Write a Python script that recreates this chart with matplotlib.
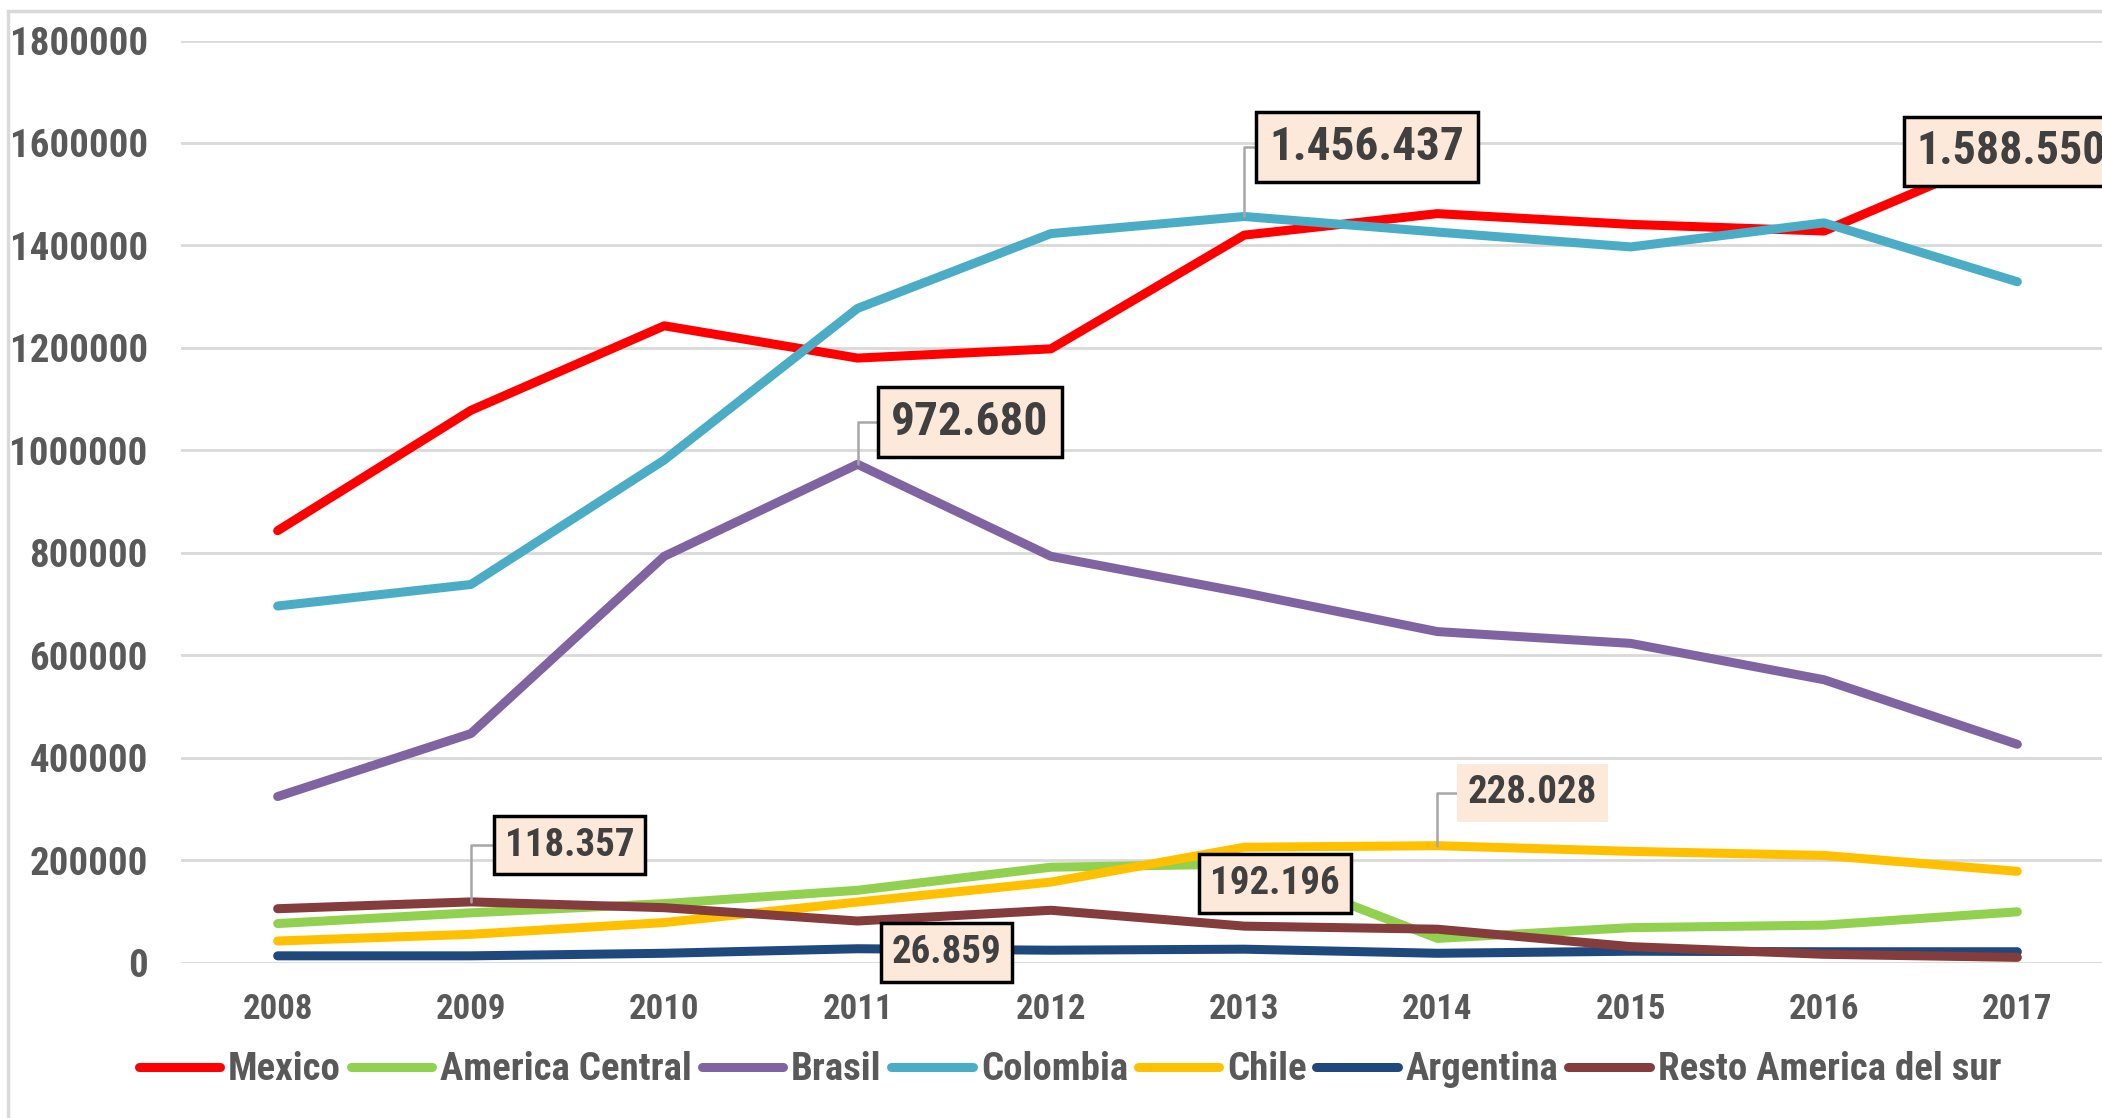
import matplotlib.pyplot as plt
import matplotlib.patches as mpatches
from matplotlib import font_manager as fm
from matplotlib.ticker import FuncFormatter, MultipleLocator

# look for a condensed bold face (the reference uses Arial Narrow)
fonts = fm.fontManager.ttflist
condensed = [f for f in fonts if ('Narrow' in f.name or 'Condensed' in f.name
                                  or str(f.stretch) in ('condensed', 'semi-condensed', '75', '87.5'))]
chosen = None
stretch = 'normal'
for pref in ['Liberation Sans Narrow', 'Arial Narrow', 'Roboto Condensed', 'Open Sans Condensed',
             'Noto Sans Condensed', 'DejaVu Sans']:
    hits = [f for f in condensed if f.name == pref]
    if hits:
        chosen = pref
        stretch = hits[0].stretch
        break
scale = 1.0
if chosen is None:
    chosen = 'Liberation Sans'
    scale = 0.82

plt.rcParams['font.family'] = [chosen, 'DejaVu Sans']
plt.rcParams['font.stretch'] = stretch
plt.rcParams['font.weight'] = 'bold'

years = ["2008", "2009", "2010", "2011", "2012", "2013", "2014", "2015", "2016", "2017"]

mexico = [843000, 1078000, 1243000, 1180000, 1198000, 1420000, 1462000, 1441000, 1428000, 1588550]
america_central = [76000, 97000, 115000, 141000, 186000, 192196, 47000, 68000, 73000, 99000]
brasil = [324000, 447000, 793000, 972680, 793000, 722000, 646000, 623000, 552000, 426000]
colombia = [696000, 738000, 981000, 1277000, 1423000, 1456437, 1426000, 1397000, 1444000, 1329000]
chile = [42000, 55000, 78000, 118000, 157000, 225000, 228028, 217000, 209000, 178000]
argentina = [13000, 13000, 18000, 26859, 24000, 26000, 18000, 22000, 21000, 21000]
resto = [105000, 118357, 107000, 81000, 102000, 71000, 65000, 31000, 16000, 10000]

series = [
    ("Mexico", mexico, "#FF0000"),
    ("America Central", america_central, "#92D050"),
    ("Brasil", brasil, "#8064A2"),
    ("Colombia", colombia, "#4BACC6"),
    ("Chile", chile, "#FFC000"),
    ("Argentina", argentina, "#1F497D"),
    ("Resto America del sur", resto, "#843C3C"),
]

# (series, year index, text offset in data units, boxed, leader, font size)
labels = [
    (colombia, 5, (0.635, 136000), True, True, 34),
    (mexico, 9, (-0.03, -5000), True, False, 33),
    (brasil, 3, (0.58, 82000), True, True, 34),
    (resto, 1, (0.51, 111000), True, True, 28),
    (chile, 6, (0.49, 103000), False, True, 28),
    (america_central, 5, (0.16, -38000), True, False, 28),
    (argentina, 3, (0.46, -7400), True, False, 28),
]

W, H = 2102, 1118
fig = plt.figure(figsize=(W / 100, H / 100), dpi=100)
ax = fig.add_axes([181 / W, (H - 962.5) / H, 1933 / W, 922 / H])

x = list(range(len(years)))
for name, vals, col in series:
    ax.plot(x, vals, color=col, lw=6.5, label=name,
            solid_capstyle='round', solid_joinstyle='round')

ax.set_xlim(-0.5, len(years) - 0.5)
ax.set_ylim(0, 1800000)
ax.yaxis.set_major_locator(MultipleLocator(200000))
ax.yaxis.set_major_formatter(FuncFormatter(lambda v, p: f"{int(v)}"))
ax.set_xticks(x)
ax.set_xticklabels(years)
ax.grid(axis='y', color='#D9D9D9', lw=2)
ax.set_axisbelow(True)
for s in ax.spines.values():
    s.set_visible(False)
ax.tick_params(axis='y', length=0, pad=24, labelsize=28 * scale, labelcolor='#595959')
ax.tick_params(axis='x', length=0, pad=22, labelsize=25 * scale, labelcolor='#595959')

def fmt(v):
    return f"{v:,}".replace(",", ".")

for vals, i, (dx, dy), boxed, leader, fs in labels:
    bbox = dict(boxstyle='square,pad=0.28', facecolor='#FDE9D9',
                edgecolor='black' if boxed else 'none', lw=2.5)
    arrow = None
    if leader:
        arrow = dict(arrowstyle='-', color='#A6A6A6', lw=1.8,
                     connectionstyle='angle,angleA=180,angleB=90,rad=0',
                     shrinkA=0, shrinkB=0)
    ax.annotate(fmt(vals[i]), xy=(i, vals[i]), xytext=(i + dx, vals[i] + dy),
                ha='center', va='center', fontsize=fs * scale, color='#404040',
                fontweight='bold', bbox=bbox, arrowprops=arrow, zorder=10)

fig.legend(loc='center', bbox_to_anchor=(1070 / W, (H - 1070) / H), ncol=7,
           frameon=False, fontsize=28 * scale, labelcolor='#595959',
           handlelength=2.1, handletextpad=0.2, columnspacing=0.25)

# outer chart border
fig.patches.append(mpatches.Rectangle((8 / W, -0.1), 1.2, (H - 11) / H + 0.1,
                                      transform=fig.transFigure, fill=False,
                                      edgecolor='#D9D9D9', lw=2.5))

fig.savefig("out.png", dpi=100)
